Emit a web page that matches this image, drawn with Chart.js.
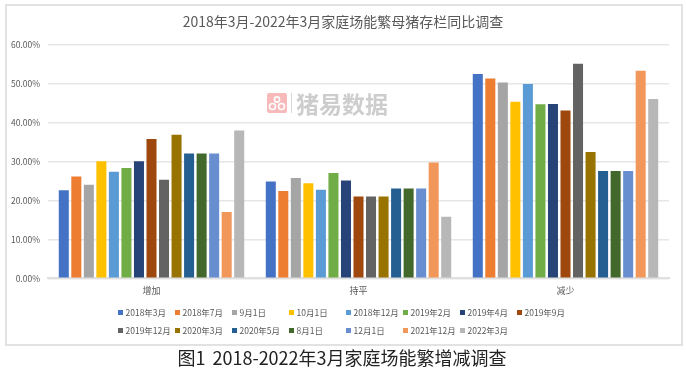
<!DOCTYPE html>
<html>
<head>
<meta charset="utf-8">
<script src="https://cdn.jsdelivr.net/npm/chart.js@4/dist/chart.umd.min.js"></script>
<style>
  html, body { margin: 0; padding: 0; background: #fff; }
  body { width: 686px; height: 373px; overflow: hidden; position: relative; font-family: "Noto Sans CJK SC", sans-serif; }
  #frame { position: absolute; left: 5px; top: 4px; width: 674px; height: 338px; border: 2px solid #e2e2e2; }
  #myChart { position: absolute; left: 0; top: 0; }
  #mark { position: absolute; left: 267px; top: 91px; height: 24px; color: #cdcdcd; font-size: 23px; font-weight: 700; line-height: 24px; white-space: nowrap; }
  #mark svg { position: absolute; left: 0; top: 2px; }
  #mark i { position: absolute; left: 24px; top: 2px; width: 1px; height: 20px; background: #d8d8d8; }
  #mark span { position: absolute; left: 29px; top: 0; }
  #legend div { position: absolute; font-size: 8.5px; line-height: 12px; color: #595959; white-space: nowrap; padding-left: 7.5px; }
  #legend b { position: absolute; left: 0; top: 3.5px; width: 5px; height: 5px; }
  #caption { position: absolute; left: 0; width: 684px; top: 346px; text-align: center; font-size: 18px; line-height: 22px; color: #222; white-space: pre; word-spacing: 3px; }
</style>
</head>
<body>
<div id="frame"></div>
<canvas id="myChart" width="686" height="373"></canvas>
<div id="mark">
  <svg width="20" height="20" viewBox="0 0 20 20">
    <rect width="20" height="20" rx="2" fill="#f7b9b9"/>
    <circle cx="10" cy="6.5" r="2.6" fill="none" stroke="#fff" stroke-width="1.6"/>
    <circle cx="5.5" cy="13.5" r="3" fill="none" stroke="#fff" stroke-width="1.6"/>
    <circle cx="14.5" cy="13.5" r="3" fill="none" stroke="#fff" stroke-width="1.6"/>
  </svg>
  <i></i><span>猪易数据</span>
</div>
<div id="legend"></div>
<div id="caption">图1 2018-2022年3月家庭场能繁增减调查</div>

<script>
const categories = ["增加", "持平", "减少"];
const seriesNames = ["2018年3月", "2018年7月", "9月1日", "10月1日", "2018年12月", "2019年2月", "2019年4月", "2019年9月",
  "2019年12月", "2020年3月", "2020年5月", "8月1日", "12月1日", "2021年12月", "2022年3月"];
const colors = ["#4472C4", "#ED7D31", "#A5A5A5", "#FFC000", "#5B9BD5", "#70AD47", "#264478", "#9E480E",
  "#636363", "#997300", "#255E91", "#43682B", "#698ED0", "#F1975A", "#B7B7B7"];

// 增加
const increase = [22.6, 26.1, 24.0, 30.0, 27.3, 28.3, 30.0, 35.7, 25.3, 36.8, 32.0, 32.0, 32.0, 17.0, 37.9];
// 持平
const flat = [24.8, 22.4, 25.7, 24.4, 22.7, 27.0, 25.1, 21.0, 21.0, 21.0, 23.0, 23.0, 23.0, 29.7, 15.8];
// 减少
const decrease = [52.4, 51.2, 50.2, 45.3, 49.8, 44.6, 44.7, 43.0, 55.0, 32.4, 27.5, 27.5, 27.5, 53.2, 46.0];

const FONT = '"Noto Sans CJK SC", sans-serif';

const datasets = seriesNames.map((name, i) => ({
  label: name,
  data: [increase[i], flat[i], decrease[i]],
  backgroundColor: colors[i],
  categoryPercentage: 0.908,
  barPercentage: 0.8
}));

new Chart(document.getElementById("myChart").getContext("2d"), {
  type: "bar",
  data: { labels: categories, datasets: datasets },
  options: {
    responsive: false,
    animation: false,
    layout: { padding: 0 },
    plugins: {
      legend: { display: false },
      tooltip: { enabled: false },
      title: {
        display: true,
        text: "2018年3月-2022年3月家庭场能繁母猪存栏同比调查",
        color: "#595959",
        font: { family: FONT, size: 14, weight: "normal" },
        padding: { top: 13, bottom: 14.5 }
      }
    },
    scales: {
      x: {
        grid: { display: false, drawTicks: false },
        border: { color: "#e0e0e0", width: 2 },
        ticks: { color: "#595959", font: { family: FONT, size: 9 }, padding: 7 },
        afterFit: (s) => { s.height = 94.7; }
      },
      y: {
        min: 0,
        max: 60,
        grid: { color: "#e6e6e6", lineWidth: 1.4, drawTicks: false },
        border: { display: false },
        ticks: {
          stepSize: 10,
          color: "#595959",
          font: { family: FONT, size: 8.5 },
          padding: 8,
          callback: (v) => v.toFixed(2) + "%"
        },
        afterFit: (s) => { s.width = 48; }
      },
      // empty axis, only keeps the right margin so the title stays centred on the page
      rightGap: {
        position: "right",
        grid: { display: false, drawTicks: false },
        border: { display: false },
        ticks: { display: false },
        afterFit: (s) => { s.width = 17; }
      }
    }
  }
});

// legend, two rows of eight columns
const legendBox = document.getElementById("legend");
seriesNames.forEach((name, i) => {
  const el = document.createElement("div");
  el.style.left = (118 + (i % 8) * 57) + "px";
  el.style.top = (i < 8 ? 306 : 324) + "px";
  el.innerHTML = '<b style="background:' + colors[i] + '"></b>' + name;
  legendBox.appendChild(el);
});
</script>
</body>
</html>
